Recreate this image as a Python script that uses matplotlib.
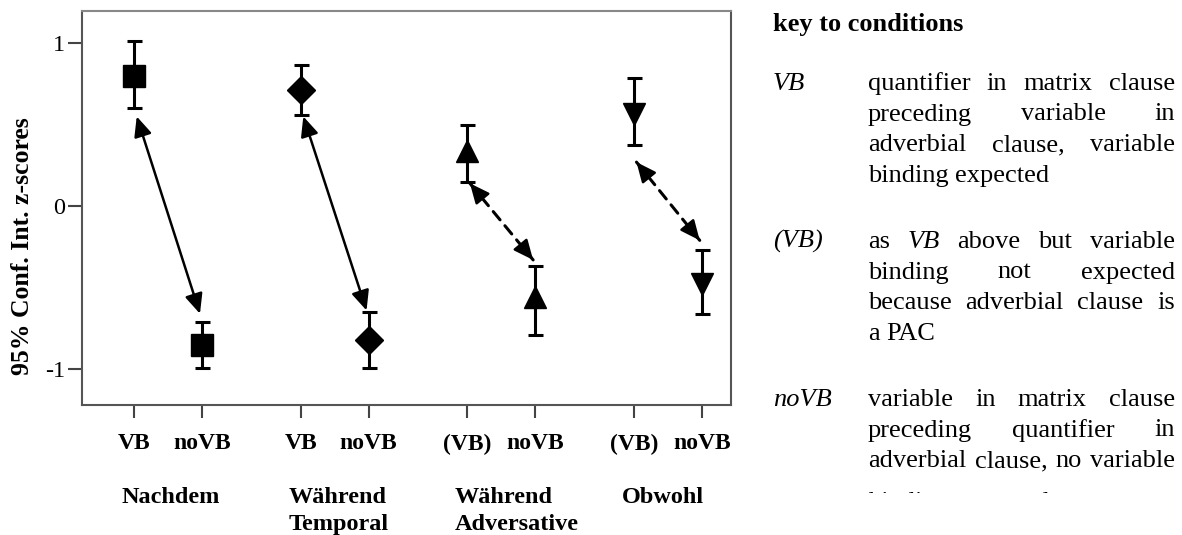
import matplotlib
matplotlib.use("Agg")
import matplotlib.pyplot as plt
import matplotlib.transforms as mtransforms
from matplotlib.transforms import Bbox
import numpy as np

plt.rcParams['font.family'] = ['Liberation Serif', 'DejaVu Serif']
plt.rcParams['axes.unicode_minus'] = False

# data
conditions = ['VB', 'noVB', 'VB', 'noVB', '(VB)', 'noVB', '(VB)', 'noVB']
groups = [['Nachdem'], ['Während', 'Temporal'], ['Während', 'Adversative'], ['Obwohl']]
means = [0.80, -0.85, 0.71, -0.82, 0.34, -0.56, 0.565, -0.48]
ci_low = [0.60, -0.99, 0.56, -0.99, 0.15, -0.79, 0.375, -0.66]
ci_high = [1.01, -0.71, 0.865, -0.65, 0.50, -0.37, 0.785, -0.27]
arrow_top = [0.55, 0.55, 0.14, 0.27]
arrow_bottom = [-0.66, -0.64, -0.33, -0.21]
arrow_dashed = [False, False, True, True]
yticks = [-1, 0, 1]

key_title = 'key to conditions'
key_labels = ['VB', '(VB)', 'noVB']
key_lines = [
    ['quantifier in matrix clause', 'preceding variable in',
     'adverbial clause, variable', 'binding expected'],
    ['as *VB above but variable', 'binding not expected',
     'because adverbial clause is', 'a PAC'],
    ['variable in matrix clause', 'preceding quantifier in',
     'adverbial clause, no variable', 'binding expected'],
]

markers = ['s', 'D', '^', 'v']
msizes = [15.5, 14.5, 15.5, 15.5]

W, H = 1182, 535
fig = plt.figure(figsize=(W / 100, H / 100), dpi=100)
ax = fig.add_axes([82 / W, 130 / H, 649 / W, 394 / H])
ax.set_xlim(-0.765, 8.78)
ax.set_ylim(-1.22, 1.197)

pos = []
for g in range(len(groups)):
    pos += [g * 2.45, g * 2.45 + 1]

head = 'head_length=0.6,head_width=0.27'
for g in range(len(groups)):
    for k in range(2):
        i = 2 * g + k
        ax.errorbar(pos[i], means[i],
                    yerr=[[means[i] - ci_low[i]], [ci_high[i] - means[i]]],
                    fmt=markers[g], color='black', ms=msizes[g],
                    elinewidth=2.2, capsize=5.4, capthick=2.2)
    p_top = np.array([pos[2 * g] + 0.04, arrow_top[g]])
    p_bot = np.array([pos[2 * g + 1] - 0.03, arrow_bottom[g]])
    if not arrow_dashed[g]:
        ax.annotate('', xy=p_bot, xytext=p_top,
                    arrowprops=dict(arrowstyle='<|-|>,' + head, mutation_scale=20,
                                    lw=1.8, color='black', shrinkA=0, shrinkB=0))
    else:
        # dashed shaft, solid heads on short end pieces
        ax.annotate('', xy=p_bot, xytext=p_top,
                    arrowprops=dict(arrowstyle='-', lw=2.2, color='black',
                                    linestyle=(0, (3.5, 2.5)), shrinkA=0, shrinkB=0))
        d_px = np.hypot(*(ax.transData.transform(p_bot) - ax.transData.transform(p_top)))
        f = 17 / d_px
        for tip, other in [(p_bot, p_top), (p_top, p_bot)]:
            ax.annotate('', xy=tip, xytext=tip + f * (other - tip),
                        arrowprops=dict(arrowstyle='-|>,' + head, mutation_scale=20,
                                        lw=1.8, color='black', shrinkA=0, shrinkB=0))

ax.set_yticks(yticks)
ax.set_yticklabels([str(t) for t in yticks])
ax.set_xticks(pos)
ax.set_xticklabels(conditions, fontweight='bold')
for sp in ax.spines.values():
    sp.set_color('#555555')
    sp.set_linewidth(1.5)
ax.spines['top'].set_color('#888888')
ax.tick_params(axis='x', length=9.5, width=1.5, color='#444444', pad=11, labelsize=17)
ax.tick_params(axis='y', length=10, width=1.5, color='#444444', pad=2, labelsize=17.5)

fig.text(23 / W, 1 - 246 / H, '95% Conf. Int. z-scores', rotation=90,
         ha='center', va='center', fontsize=18.5, fontweight='bold')

# group names under the tick labels
blend = mtransforms.blended_transform_factory(ax.transData, fig.transFigure)
for g, lines in enumerate(groups):
    for j, line in enumerate(lines):
        ax.text(pos[2 * g] - 0.18, 1 - (503 + 27 * j) / H, line, transform=blend,
                ha='left', va='baseline', fontsize=17.5, fontweight='bold')

# key panel on the right
fig.text(773 / W, 1 - 31 / H, key_title, fontsize=19, fontweight='bold', va='baseline')

renderer = fig.canvas.get_renderer()
x0, x1 = 868, 1175
starts = [90, 248, 406]
step = 30.5
clip = Bbox([[0, H - 493], [W, H]])


def place_line(text, y, justify, clipped=False):
    words = text.split(' ')
    objs = []
    for w in words:
        style = 'normal'
        if w.startswith('*'):
            w, style = w[1:], 'italic'
        t = fig.text(0, 1 - y / H, w, fontsize=19, style=style, va='baseline')
        if clipped:
            t.set_clip_box(clip)
            t.set_clip_on(True)
        objs.append(t)
    widths = [t.get_window_extent(renderer).width for t in objs]
    if justify and len(objs) > 1:
        gap = (x1 - x0 - sum(widths)) / (len(objs) - 1)
    else:
        gap = 19 * 100 / 72 * 0.25
    x = x0
    for t, w in zip(objs, widths):
        t.set_x(x / W)
        x += w + gap


for b, label in enumerate(key_labels):
    fig.text(773 / W, 1 - starts[b] / H, label, fontsize=19, style='italic', va='baseline')
    lines = key_lines[b]
    for j, line in enumerate(lines):
        y = starts[b] + step * j
        last = j == len(lines) - 1
        if b == 2 and last:
            place_line(line, y + 12, False, clipped=True)
        else:
            place_line(line, y, not last or b == 2 and j == 2)

fig.savefig('out.png', dpi=100)
